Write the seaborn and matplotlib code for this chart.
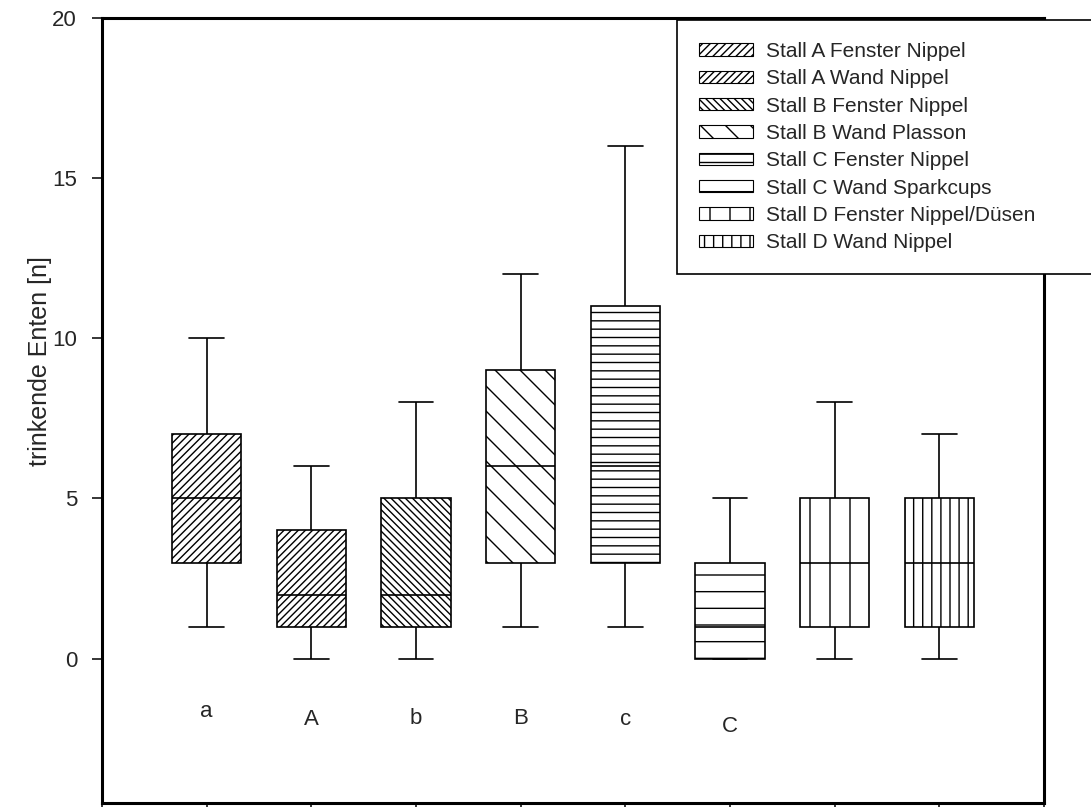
import matplotlib
matplotlib.use("Agg")
import matplotlib.pyplot as plt
import numpy as np
import pandas as pd
import seaborn as sns
from matplotlib import hatch as mhatch
from matplotlib.backend_bases import GraphicsContextBase
from matplotlib.patches import Patch

groups = [
    "Stall A Fenster Nippel",
    "Stall A Wand Nippel",
    "Stall B Fenster Nippel",
    "Stall B Wand Plasson",
    "Stall C Fenster Nippel",
    "Stall C Wand Sparkcups",
    "Stall D Fenster Nippel/Düsen",
    "Stall D Wand Nippel",
]
whisker_low = [1, 0, 0, 1, 1, 0, 0, 0]
quartile_low = [3, 1, 1, 3, 3, 0, 1, 1]
medians = [5, 2, 2, 6, 6, 1, 3, 3]
quartile_high = [7, 4, 5, 9, 11, 3, 5, 5]
whisker_high = [10, 6, 8, 12, 16, 5, 8, 7]
letters = ["a", "A", "b", "B", "c", "C"]

# styling
letter_y = [-1.65, -1.9, -1.85, -1.85, -1.9, -2.1]
# diagonal hatches need an even count (spacing = 2/n inch), straight ones 1/n inch
hatches = ["/" * 26, "/" * 28, "\\" * 28, "\\" * 8, "-" * 12, "-" * 6, "|" * 5, "|" * 11]


# one hatch char = one line per inch, so sparse patterns are possible
def _hatch_path(self, density=1.0):
    h = self.get_hatch()
    if h is None:
        return None
    return mhatch.get_path(h, 1.0)


GraphicsContextBase.get_hatch_path = _hatch_path

# five-number summaries -> tiny sample whose quartiles match exactly
df = pd.DataFrame({
    "group": np.repeat(groups, 5),
    "value": np.column_stack([whisker_low, quartile_low, medians,
                              quartile_high, whisker_high]).ravel(),
})

sns.set_style("ticks")
plt.rcParams["font.family"] = ["Liberation Sans", "DejaVu Sans"]
plt.rcParams["hatch.linewidth"] = 1.0

fig = plt.figure(figsize=(10.91, 8.07), dpi=100)
ax = fig.add_axes([102 / 1091, 1 - 803 / 807, 942 / 1091, 785.5 / 807])

sns.boxplot(data=df, x="group", y="value", order=groups, ax=ax,
            color="white", linecolor="black", linewidth=1.2, width=0.66,
            whis=(0, 100), showfliers=False)

for patch, h in zip(ax.patches, hatches):
    patch.set_hatch(h)
    patch.set_edgecolor("black")

for i, letter in enumerate(letters):
    ax.text(i, letter_y[i], letter, ha="center", va="center", fontsize=16)

ax.set_xlim(-1, 8)
ax.set_ylim(-4.5, 20)
ax.set_xticks(np.arange(-1, 9))
ax.set_xticklabels([])
ax.set_yticks([0, 5, 10, 15, 20])
ax.set_xlabel("")
ax.set_ylabel("trinkende Enten [n]", fontsize=18)
ax.yaxis.set_label_coords(-0.053, 0.563)
ax.tick_params(axis="y", labelsize=16, length=7, width=1.3, direction="out", pad=11)
ax.tick_params(axis="x", length=5, width=1.3, direction="out")
for side in ["left", "right", "top", "bottom"]:
    ax.spines[side].set_visible(True)
    ax.spines[side].set_linewidth(2.2)
    ax.spines[side].set_color("black")

handles = [Patch(facecolor="white", edgecolor="black", hatch=h, linewidth=0.8)
           for h in hatches]
leg = fig.legend(handles, groups, loc="upper left", mode="expand",
                 bbox_to_anchor=(677 / 1091, 1 - 20 / 807, 440 / 1091, 0),
                 bbox_transform=fig.transFigure, borderaxespad=0,
                 fontsize=15, frameon=True, fancybox=False,
                 handlelength=2.6, handleheight=0.53, handletextpad=0.62,
                 labelspacing=0.40, borderpad=1.05)
leg.get_frame().set_edgecolor("black")
leg.get_frame().set_linewidth(1.2)
leg.get_frame().set_alpha(1)

fig.savefig("out.png", dpi=100)
